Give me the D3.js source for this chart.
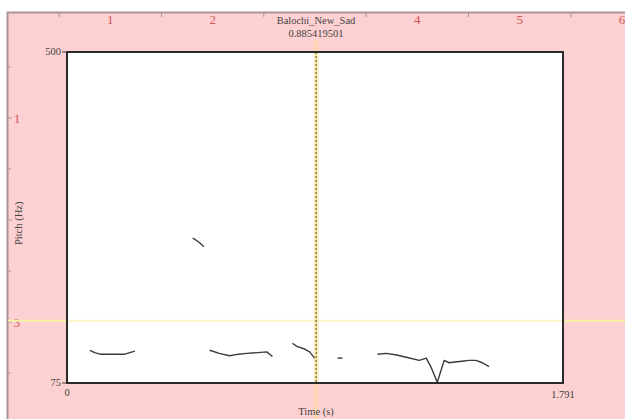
<!DOCTYPE html>
<html>
<head>
<meta charset="utf-8">
<script src="https://cdn.jsdelivr.net/npm/d3@7"></script>
<style>
  html, body { margin: 0; padding: 0; background: #fff; }
  svg { display: block; }
</style>
</head>
<body>
<div id="chart"></div>
<script>
// pitch contour pieces, [time (s), pitch (Hz)]
var seg1 = [[0.083,117],[0.10,114],[0.119,112],[0.16,112],[0.209,112],[0.245,116]];
var seg2 = [[0.454,261],[0.468,258],[0.479,255],[0.494,250]];
var seg3 = [[0.515,117],[0.55,113],[0.587,110],[0.62,112],[0.649,113],[0.69,114],[0.721,115],[0.742,109]];
var seg4 = [[0.814,126],[0.83,122],[0.855,119],[0.876,115],[0.894,107]];
var seg5 = [[0.977,107],[0.995,107]];
var seg6 = [[1.121,112],[1.153,113],[1.19,111],[1.225,108],[1.272,104],[1.297,107],[1.315,95],[1.337,76],
            [1.362,104],[1.380,101],[1.40,102],[1.427,103],[1.45,104],[1.477,104],[1.50,101],[1.524,96]];
var segments = [seg1, seg2, seg3, seg4, seg5, seg6];

var title = "Balochi_New_Sad";
var cursorTime = 0.885419501;
var cursorHz = 155;
var timeDomain = [0, 1.791];
var pitchDomain = [75, 500];
// ruler numbers still visible (3 on top is under the title, 2 on the left under the axis label)
var rulerTop = [1, 2, 4, 5, 6];
var rulerLeft = [1, 3];

var W = 625, H = 419;
var svg = d3.select("#chart").append("svg").attr("width", W).attr("height", H);

// praat picture background
svg.append("rect").attr("x", 7).attr("y", 12).attr("width", W - 7).attr("height", H - 12)
   .attr("fill", "#fdd0d1");

var x = d3.scaleLinear().domain(timeDomain).range([67, 563]);
var y = d3.scaleLinear().domain(pitchDomain).range([383, 52]);
var mid = (7 + W) / 2;

// rulers (inches)
var rx = d3.scaleLinear().domain([0, 6]).range([8, 622]);
var ry = d3.scaleLinear().domain([0, 4]).range([16, 424]);
var ruler = svg.append("g").attr("stroke", "#b09090").attr("stroke-width", 1);
ruler.append("line").attr("x1", 7).attr("x2", W).attr("y1", 12.5).attr("y2", 12.5).attr("stroke", "#a89494").attr("stroke-width", 2);
ruler.append("line").attr("x1", 7.5).attr("x2", 7.5).attr("y1", 12).attr("y2", H).attr("stroke", "#a89494").attr("stroke-width", 2);
d3.range(0.5, 6.01, 0.5).forEach(function(v){
  if (v % 1 === 0) return;
  ruler.append("line").attr("x1", rx(v)).attr("x2", rx(v)).attr("y1", 13).attr("y2", 17);
});
d3.range(0.5, 4.01, 0.5).forEach(function(v){
  var major = v % 1 === 0;
  ruler.append("line").attr("y1", ry(v)).attr("y2", ry(v)).attr("x1", 8).attr("x2", major ? 12 : 11);
});
svg.selectAll(".rtop").data(rulerTop).enter().append("text")
   .attr("x", function(d){ return rx(d); }).attr("y", 24)
   .attr("text-anchor", "middle").attr("fill", "#d05656")
   .style("font-family", "Liberation Serif").style("font-size", "13px")
   .text(function(d){ return d; });
svg.selectAll(".rleft").data(rulerLeft).enter().append("text")
   .attr("x", 17).attr("y", function(d){ return ry(d) + 5; })
   .attr("text-anchor", "middle").attr("fill", "#d05656")
   .style("font-family", "Liberation Serif").style("font-size", "13px")
   .text(function(d){ return d; });

// yellow horizontal cursor line
svg.append("line").attr("x1", 8).attr("x2", W).attr("y1", y(cursorHz)).attr("y2", y(cursorHz))
   .attr("stroke", "#f6f0a6").attr("stroke-width", 2);

// plot area
svg.append("rect").attr("x", x(0)).attr("y", y(500)).attr("width", x(1.791) - x(0)).attr("height", y(75) - y(500))
   .attr("fill", "#fff");
svg.append("line").attr("x1", x(0)).attr("x2", x(1.791)).attr("y1", y(cursorHz)).attr("y2", y(cursorHz))
   .attr("stroke", "#fbf6c4").attr("stroke-width", 2);

// cursor sits a few px right of its time in the Praat window
var cx = x(cursorTime) + 4;

// vertical cursor glow outside plot
svg.append("line").attr("x1", cx).attr("x2", cx).attr("y1", 40).attr("y2", H)
   .attr("stroke", "#ffd89a").attr("stroke-opacity", 0.55).attr("stroke-width", 5);

// pitch contours
var line = d3.line().x(function(d){ return x(d[0]); }).y(function(d){ return y(d[1]); });
svg.selectAll(".seg").data(segments).enter().append("path")
   .attr("d", line).attr("fill", "none").attr("stroke", "#3a3a3a").attr("stroke-width", 1.4)
   .attr("stroke-linejoin", "round");

// vertical dashed cursor
svg.append("line").attr("x1", cx).attr("x2", cx).attr("y1", y(500)).attr("y2", y(75))
   .attr("stroke", "#eee88a").attr("stroke-width", 1.5);
svg.append("line").attr("x1", cx).attr("x2", cx).attr("y1", y(500)).attr("y2", y(75))
   .attr("stroke", "#6b7a3a").attr("stroke-width", 1.3).attr("stroke-dasharray", "2,2");

// frame
svg.append("rect").attr("x", x(0)).attr("y", y(500)).attr("width", x(1.791) - x(0)).attr("height", y(75) - y(500))
   .attr("fill", "none").attr("stroke", "#2a2a2a").attr("stroke-width", 2);

var lab = function(t, px, py, anchor){
  return svg.append("text").attr("x", px).attr("y", py).attr("text-anchor", anchor || "middle")
     .attr("fill", "#444").style("font-family", "Liberation Serif").style("font-size", "10.5px").text(t);
};
lab("500", x(0) - 6, y(500) + 3, "end");
lab("75", x(0) - 6, y(75) + 3, "end");
svg.append("line").attr("x1", x(0) - 5).attr("x2", x(0)).attr("y1", y(500)).attr("y2", y(500)).attr("stroke", "#444");
svg.append("line").attr("x1", x(0) - 5).attr("x2", x(0)).attr("y1", y(75)).attr("y2", y(75)).attr("stroke", "#444");
lab("0", x(0), y(75) + 13);
lab("1.791", x(1.791), y(75) + 15);
lab("Time (s)", mid, 415);
lab(title, mid, 24);
lab(cursorTime.toFixed(9), mid, 37);
svg.append("text").attr("transform", "translate(22," + y(280) + ") rotate(-90)")
   .attr("text-anchor", "middle").attr("fill", "#444")
   .style("font-family", "Liberation Serif").style("font-size", "10.5px").text("Pitch (Hz)");
</script>
</body>
</html>
